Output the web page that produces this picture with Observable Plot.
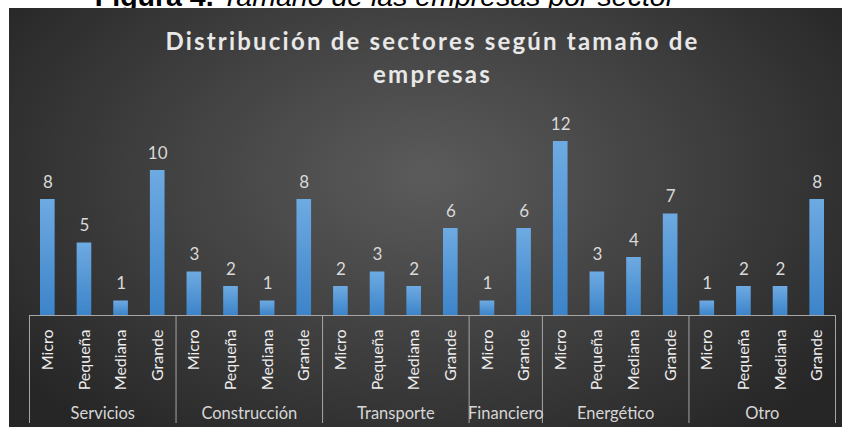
<!DOCTYPE html>
<html><head><meta charset="utf-8">
<script src="https://cdn.jsdelivr.net/npm/d3@7"></script>
<script src="https://cdn.jsdelivr.net/npm/@observablehq/plot@0.6"></script>
<style>
html,body{margin:0;padding:0;background:#fff;}
#wrap{position:relative;width:842px;height:427px;overflow:hidden;background:#fff;}
#caption{position:absolute;left:0;top:0;}
#panel{position:absolute;left:9px;top:8px;width:833px;height:419px;
  background:radial-gradient(ellipse 62% 78% at 50% 40%, #5b5b5b 0%, #414141 50%, #262626 100%);}
#panel svg{position:absolute;left:0;top:0;}
</style></head><body>
<div id="wrap">
  <svg id="caption" width="842" height="12"><text x="385" y="5.5" text-anchor="middle" font-family="Liberation Sans, Arial, sans-serif" font-size="28.5" fill="#000"><tspan font-weight="bold">Figura 4.</tspan><tspan font-style="italic"> Tamaño de las empresas por sector</tspan></text></svg>
  <div id="panel"></div>
</div>
<script>
const titleLines = ["Distribución de sectores según tamaño de", "empresas"];
const sectors = ["Servicios", "Construcción", "Transporte", "Financiero", "Energético", "Otro"];
const sizesBySector = [
  ["Micro", "Pequeña", "Mediana", "Grande"],
  ["Micro", "Pequeña", "Mediana", "Grande"],
  ["Micro", "Pequeña", "Mediana", "Grande"],
  ["Micro", "Grande"],
  ["Micro", "Pequeña", "Mediana", "Grande"],
  ["Micro", "Pequeña", "Mediana", "Grande"]
];
const countsBySector = [
  [8, 5, 1, 10],
  [3, 2, 1, 8],
  [2, 3, 2, 6],
  [1, 6],
  [12, 3, 4, 7],
  [1, 2, 2, 8]
];

// Build rows with a running index along the category axis
const rows = [];
const groups = [];
let idx = 0;
sectors.forEach((s, g) => {
  const start = idx;
  sizesBySector[g].forEach((sz, k) => {
    rows.push({sector: s, size: sz, value: countsBySector[g][k], i: idx, mid: idx + 0.5});
    idx++;
  });
  groups.push({name: s, start, end: idx, mid: (start + idx) / 2});
});
const boundaries = [0, ...groups.map(d => d.end)];

const lineColor = "#a6a6a6";
const font = "Lato, 'Open Sans', sans-serif";

const plot = Plot.plot({
  width: 833,
  height: 419,
  marginLeft: 20,
  marginRight: 7,
  marginTop: 104,
  marginBottom: 112,
  style: {background: "transparent", overflow: "visible", fontFamily: font},
  x: {domain: [0, idx], axis: null},
  y: {domain: [0, 14], axis: null},
  marks: [
    Plot.rectY(rows, {x1: "i", x2: d => d.i + 1, y: "value", fill: "url(#barGrad)", insetLeft: 11, insetRight: 11}),
    Plot.text(rows, {x: "mid", y: "value", text: d => String(d.value), lineAnchor: "bottom", dy: -12,
      fill: "#d9d9d9", fontSize: 17, fontFamily: font}),
    Plot.ruleY([0], {stroke: lineColor, strokeWidth: 1}),
    Plot.ruleX(boundaries, {x: d => d, y1: 0, y2: 0, insetBottom: -108, stroke: lineColor, strokeWidth: 1}),
    Plot.text(rows, {x: "mid", y: 0, text: "size", rotate: -90, textAnchor: "end", lineAnchor: "middle", dy: 14,
      fill: "#eeeeee", fontSize: 16, fontFamily: font}),
    Plot.text(groups, {x: "mid", y: 0, text: "name", lineAnchor: "bottom", dy: 103,
      fill: "#d6d6d6", fontSize: 16.5, fontFamily: font}),
    Plot.text([titleLines[0]], {text: d => d, frameAnchor: "top", lineAnchor: "bottom", dy: -63,
      fill: "#e8e8e8", fontSize: 24, fontWeight: "bold", fontFamily: font}),
    Plot.text([titleLines[1]], {text: d => d, frameAnchor: "top", lineAnchor: "bottom", dy: -30,
      fill: "#e8e8e8", fontSize: 24, fontWeight: "bold", fontFamily: font})
  ]
});

// gradient for bars
const svg = d3.select(plot);
const defs = svg.insert("defs", ":first-child");
const grad = defs.append("linearGradient").attr("id", "barGrad")
  .attr("x1", 0).attr("y1", 0).attr("x2", 0).attr("y2", 1);
grad.append("stop").attr("offset", "0%").attr("stop-color", "#6eaae2");
grad.append("stop").attr("offset", "100%").attr("stop-color", "#3c84c9");

// letter spacing on the title lines
svg.selectAll("text").filter(function () {
  return titleLines.includes(this.textContent);
}).style("letter-spacing", "2.2px");

document.getElementById("panel").appendChild(plot);
</script>
</body></html>
